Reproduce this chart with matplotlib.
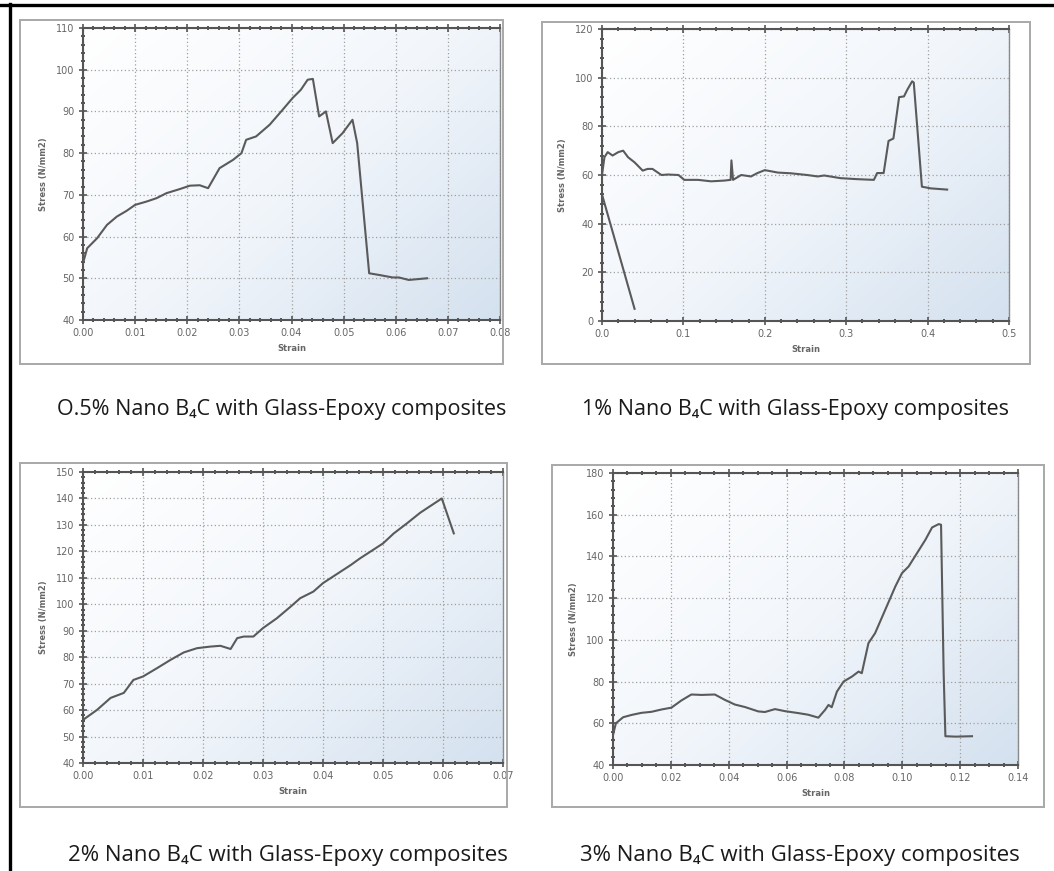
import numpy as np
import matplotlib
matplotlib.use("Agg")
import matplotlib.pyplot as plt
from matplotlib.colors import LinearSegmentedColormap
from matplotlib.ticker import MultipleLocator, AutoMinorLocator, FormatStrFormatter
from matplotlib.patches import Rectangle
from matplotlib.lines import Line2D

# ---------------- data ----------------
strain_05 = [0.0, 0.0008, 0.0027, 0.0046, 0.0065, 0.0084, 0.0100, 0.0122, 0.0141, 0.0160,
             0.0186, 0.0205, 0.0224, 0.0240, 0.0262, 0.0288, 0.0304, 0.0313, 0.0332, 0.0358,
             0.0383, 0.0402, 0.0418, 0.0431, 0.0441, 0.0453, 0.0466, 0.0479, 0.0498, 0.0517,
             0.0526, 0.0549, 0.0568, 0.0594, 0.0606, 0.0625, 0.0660]
stress_05 = [53.6, 57.2, 59.6, 62.8, 64.8, 66.2, 67.6, 68.4, 69.2, 70.4,
             71.4, 72.2, 72.3, 71.6, 76.4, 78.4, 80.0, 83.2, 84.0, 86.8,
             90.4, 93.2, 95.2, 97.6, 97.8, 88.8, 90.0, 82.4, 84.8, 88.0,
             82.4, 51.2, 50.8, 50.2, 50.2, 49.6, 50.0]

strain_1 = [0.0, 0.003, 0.007, 0.013, 0.020, 0.026, 0.032, 0.040, 0.050, 0.056,
            0.062, 0.073, 0.081, 0.094, 0.101, 0.118, 0.134, 0.150, 0.158, 0.159,
            0.161, 0.171, 0.183, 0.191, 0.200, 0.216, 0.232, 0.252, 0.265, 0.273,
            0.293, 0.313, 0.334, 0.338, 0.346, 0.352, 0.358, 0.365, 0.371, 0.375,
            0.381, 0.383, 0.393, 0.404, 0.424]
stress_1 = [60.0, 67.3, 69.4, 68.0, 69.4, 70.0, 67.3, 65.2, 61.8, 62.5,
            62.5, 60.0, 60.2, 60.0, 58.0, 58.0, 57.4, 57.7, 58.0, 66.0,
            58.0, 60.0, 59.4, 60.8, 62.0, 61.0, 60.7, 60.0, 59.4, 59.8,
            58.7, 58.3, 58.0, 60.8, 60.8, 74.0, 75.0, 92.0, 92.3, 95.0,
            98.5, 98.0, 55.2, 54.5, 54.0]
strain_1_unload = [0.0, 0.040]
stress_1_unload = [52.0, 5.0]

strain_2 = [0.0, 0.0023, 0.0046, 0.0068, 0.0084, 0.0100, 0.0123, 0.0146, 0.0168, 0.0190,
            0.0212, 0.0229, 0.0246, 0.0257, 0.0268, 0.0284, 0.0300, 0.0323, 0.0346, 0.0362,
            0.0384, 0.0400, 0.0423, 0.0446, 0.0462, 0.0479, 0.0500, 0.0518, 0.0540, 0.0562,
            0.0584, 0.0598, 0.0618]
stress_2 = [56.3, 60.0, 64.6, 66.5, 71.4, 72.7, 75.8, 79.0, 81.8, 83.4,
            84.0, 84.3, 83.1, 87.2, 87.8, 87.8, 91.0, 94.7, 99.1, 102.3,
            104.8, 108.0, 111.4, 114.8, 117.4, 119.9, 123.0, 126.8, 130.6, 134.6,
            137.9, 140.0, 126.8]

strain_3 = [0.0, 0.0010, 0.0035, 0.0064, 0.0098, 0.0133, 0.0167, 0.0202, 0.0237, 0.0271,
            0.0306, 0.0352, 0.0387, 0.0421, 0.0456, 0.0502, 0.0525, 0.0560, 0.0595, 0.0640,
            0.0675, 0.0710, 0.0733, 0.0745, 0.0756, 0.0774, 0.0797, 0.0826, 0.0849, 0.0860,
            0.0883, 0.0906, 0.0941, 0.0976, 0.0999, 0.1022, 0.1051, 0.1080, 0.1103, 0.1126,
            0.1134, 0.1143, 0.1149, 0.1184, 0.1241]
stress_3 = [54.4, 60.0, 62.9, 64.0, 65.0, 65.5, 66.6, 67.5, 71.0, 73.8,
            73.6, 73.8, 71.2, 69.0, 67.8, 65.7, 65.4, 66.8, 65.8, 64.9,
            64.1, 62.7, 66.4, 68.8, 67.7, 75.2, 80.0, 82.4, 84.8, 84.0,
            98.4, 103.2, 114.4, 125.6, 132.0, 135.2, 141.6, 148.0, 153.9, 155.5,
            155.2, 84.0, 53.8, 53.6, 53.8]

captions = ["O.5% Nano B\u2084C with Glass-Epoxy composites",
            "1% Nano B\u2084C with Glass-Epoxy composites",
            "2% Nano B\u2084C with Glass-Epoxy composites",
            "3% Nano B\u2084C with Glass-Epoxy composites"]

# ---------------- figure ----------------
W, H = 1054, 871
fig = plt.figure(figsize=(W / 100, H / 100), dpi=100)
fig.patch.set_facecolor("white")


def rect(l, t, r, b):
    return [l / W, 1 - b / H, (r - l) / W, (b - t) / H]


cmap = LinearSegmentedColormap.from_list("bg", ["#ffffff", "#f2f6fb", "#d4e1ef"])
grad_x = np.linspace(0, 1, 200)[None, :]
grad_y = np.linspace(0, 1, 200)[:, None]
grad = 0.55 * grad_x + 0.45 * grad_y

LINE_C = "#5a5a5a"
TICK_C = "#666666"


def make_panel(axpos, boxpos, xlim, ylim, xmaj, ymaj, xminor, yminor, xfmt, yfmt, series):
    bl, bt, br, bb = boxpos
    fig.patches.append(Rectangle((bl / W, 1 - bb / H), (br - bl) / W, (bb - bt) / H,
                                 transform=fig.transFigure, fill=False,
                                 edgecolor="#a8a8a8", linewidth=1.4, zorder=0))
    ax = fig.add_axes(rect(*axpos))
    ax.imshow(grad, extent=[xlim[0], xlim[1], ylim[0], ylim[1]], origin="upper",
              cmap=cmap, aspect="auto", zorder=0, interpolation="bilinear")
    ax.set_xlim(*xlim)
    ax.set_ylim(*ylim)
    ax.xaxis.set_major_locator(MultipleLocator(xmaj))
    ax.yaxis.set_major_locator(MultipleLocator(ymaj))
    ax.xaxis.set_minor_locator(AutoMinorLocator(xminor))
    ax.yaxis.set_minor_locator(AutoMinorLocator(yminor))
    ax.xaxis.set_major_formatter(FormatStrFormatter(xfmt))
    ax.yaxis.set_major_formatter(FormatStrFormatter(yfmt))
    ax.grid(True, which="major", color="#a0a0a0", linestyle=(0, (1, 2)), linewidth=0.9)
    ax.set_axisbelow(True)
    for s in ax.spines.values():
        s.set_color("#8a8a8a")
        s.set_linewidth(1.0)
    for side in ("left", "bottom", "top"):
        ax.spines[side].set_color("#555555")
        ax.spines[side].set_linewidth(1.5)
    ax.tick_params(which="major", direction="inout", length=6, width=1.2, color="#555555",
                   labelsize=7, labelcolor=TICK_C, pad=3)
    ax.tick_params(which="minor", direction="inout", length=3, width=1.4, color="#555555")
    ax.tick_params(which="both", top=True, right=False, labeltop=False)
    for xs, ys in series:
        ax.plot(xs, ys, color=LINE_C, linewidth=1.5, zorder=3)
    ax.set_xlabel("Strain", fontsize=6, fontweight="bold", color="#666666", labelpad=4)
    ax.set_ylabel("Stress (N/mm2)", fontsize=6, fontweight="bold", color="#666666", labelpad=6)
    return ax


make_panel((83, 28, 500, 320), (20, 20, 503, 364), (0, 0.08), (40, 110), 0.01, 10, 5, 5,
           "%.2f", "%d", [(strain_05, stress_05)])
make_panel((602, 29, 1009, 321), (542, 22, 1030, 364), (0, 0.5), (0, 120), 0.1, 20, 5, 5,
           "%.1f", "%d", [(strain_1, stress_1), (strain_1_unload, stress_1_unload)])
make_panel((83, 472, 503, 763), (20, 463, 507, 807), (0, 0.07), (40, 150), 0.01, 10, 5, 5,
           "%.2f", "%d", [(strain_2, stress_2)])
make_panel((613, 473, 1018, 765), (552, 465, 1044, 807), (0, 0.14), (40, 180), 0.02, 20, 4, 5,
           "%.2f", "%d", [(strain_3, stress_3)])

# captions
cap_font = ["Open Sans", "DejaVu Sans"]
fig.text(282 / W, 1 - 410 / H, captions[0], ha="center", va="center", fontsize=15.5,
         family=cap_font, color="#1a1a1a")
fig.text(795 / W, 1 - 410 / H, captions[1], ha="center", va="center", fontsize=15.5,
         family=cap_font, color="#1a1a1a")
fig.text(288 / W, 1 - 855 / H, captions[2], ha="center", va="center", fontsize=16,
         family=cap_font, color="#1a1a1a")
fig.text(800 / W, 1 - 855 / H, captions[3], ha="center", va="center", fontsize=16,
         family=cap_font, color="#1a1a1a")

# outer black frame (top and left)
fig.add_artist(Line2D([0, 1], [1 - 5.5 / H, 1 - 5.5 / H], transform=fig.transFigure,
                      color="black", linewidth=2.4))
fig.add_artist(Line2D([9.5 / W, 9.5 / W], [0, 1 - 4 / H], transform=fig.transFigure,
                      color="black", linewidth=2.4))

fig.savefig("out.png", dpi=100, facecolor="white")
